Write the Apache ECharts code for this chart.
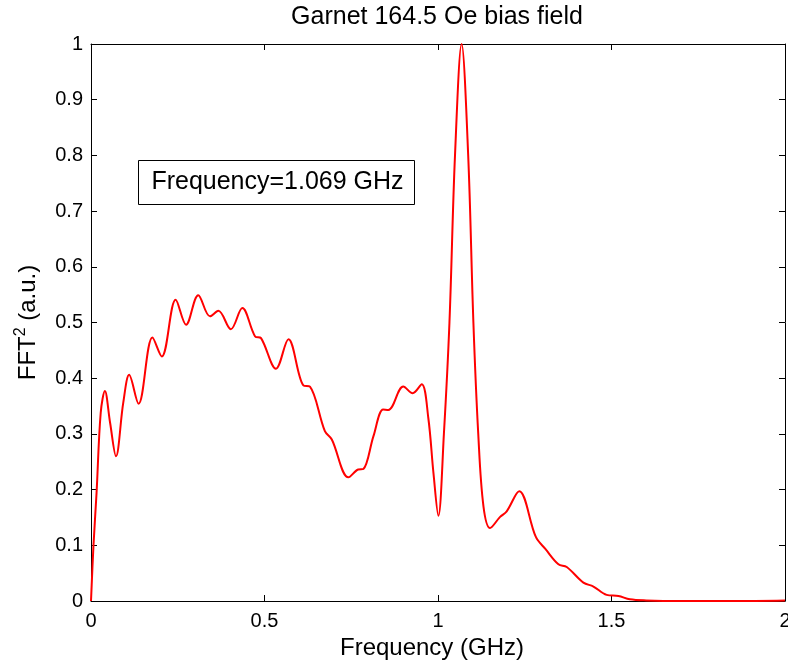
<!DOCTYPE html>
<html>
<head>
<meta charset="utf-8">
<script src="https://cdn.jsdelivr.net/npm/echarts@6/dist/echarts.min.js"></script>
<style>html,body{margin:0;padding:0;background:#fff;}#c{width:788px;height:665px;}</style>
</head>
<body>
<div id="c"></div>
<script>
// Frequency (GHz)
const freq = [0.000,0.007,0.016,0.028,0.040,0.055,0.072,0.093,0.110,0.137,0.177,0.204,0.244,0.274,0.309,0.343,0.367,0.403,0.436,0.473,0.490,0.533,0.569,0.612,0.631,0.674,0.694,0.742,0.770,0.785,0.814,0.842,0.857,0.900,0.927,0.953,0.972,0.987,1.001,1.017,1.033,1.049,1.068,1.087,1.102,1.116,1.131,1.150,1.179,1.198,1.234,1.282,1.310,1.347,1.371,1.419,1.448,1.486,1.520,1.553,1.600,1.700,1.850,2.000];
// FFT^2 (a.u.)
const power = [0.000,0.098,0.194,0.338,0.377,0.320,0.260,0.356,0.406,0.354,0.473,0.439,0.541,0.496,0.549,0.511,0.521,0.488,0.526,0.475,0.472,0.417,0.470,0.387,0.385,0.305,0.290,0.222,0.236,0.237,0.296,0.344,0.343,0.385,0.373,0.389,0.329,0.229,0.153,0.300,0.500,0.800,1.000,0.800,0.500,0.300,0.170,0.131,0.151,0.161,0.197,0.115,0.093,0.066,0.061,0.033,0.026,0.011,0.009,0.003,0.001,0.000,0.000,0.001];
const titleText = 'Garnet 164.5 Oe bias field';
const annotation = 'Frequency=1.069 GHz';

const FONT = 'Liberation Sans, Arial, sans-serif';
const chart = echarts.init(document.getElementById('c'), null, {renderer: 'canvas'});
const data = freq.map((f, i) => [f, power[i]]);
const axLine = {show: true, onZero: false, lineStyle: {color: '#000', width: 1}};
const tick = {show: true, inside: true, length: 6, lineStyle: {color: '#000', width: 1}};
chart.setOption({
  animation: false,
  backgroundColor: '#fff',
  title: {
    text: titleText, left: 437, top: 5, textAlign: 'center', padding: 0,
    textStyle: {fontFamily: FONT, fontSize: 25, fontWeight: 'normal', color: '#000'}
  },
  grid: {left: 91, top: 44, right: 3, bottom: 64, containLabel: false, outerBoundsMode: 'none'},
  xAxis: [{
    type: 'value', min: 0, max: 2, interval: 0.5, position: 'bottom',
    name: 'Frequency (GHz)', nameLocation: 'middle', nameGap: 30,
    nameTextStyle: {fontFamily: FONT, fontSize: 24, color: '#000', padding: [0, 12, 0, 0]},
    axisLine: axLine, axisTick: tick, splitLine: {show: false},
    axisLabel: {fontFamily: FONT, fontSize: 20, color: '#000', margin: 10,
      formatter: v => String(+v.toFixed(2))}
  }, {
    type: 'value', min: 0, max: 2, interval: 0.5, position: 'top',
    axisLine: axLine, axisTick: tick, axisLabel: {show: false}, splitLine: {show: false}
  }],
  yAxis: [{
    type: 'value', min: 0, max: 1, interval: 0.1, position: 'left',
    name: 'FFT{sup|2} (a.u.)', nameLocation: 'middle', nameGap: 48, nameRotate: 90,
    nameTextStyle: {fontFamily: FONT, fontSize: 24, color: '#000',
      rich: {sup: {fontFamily: FONT, fontSize: 16, verticalAlign: 'bottom', padding: [0,0,14,0], color: '#000'}}},
    axisLine: axLine, axisTick: tick, splitLine: {show: false},
    axisLabel: {fontFamily: FONT, fontSize: 20, color: '#000', margin: 8,
      formatter: v => String(+v.toFixed(2))}
  }, {
    type: 'value', min: 0, max: 1, interval: 0.1, position: 'right',
    axisLine: axLine, axisTick: tick, axisLabel: {show: false}, splitLine: {show: false}
  }],
  graphic: [{
    type: 'group', left: 138, top: 160,
    children: [
      {type: 'rect', shape: {x: 0, y: 0, width: 276, height: 44},
       style: {fill: '#fff', stroke: '#000', lineWidth: 1}},
      {type: 'text', x: 139, y: 22,
       style: {text: annotation, font: '25px ' + FONT, fill: '#000', align: 'center', verticalAlign: 'middle'}}
    ]
  }],
  series: [{
    type: 'line', data: data, xAxisIndex: 0, yAxisIndex: 0,
    showSymbol: false, smooth: 0.35, clip: true,
    lineStyle: {color: '#ff0000', width: 2}
  }]
});
</script>
</body>
</html>
